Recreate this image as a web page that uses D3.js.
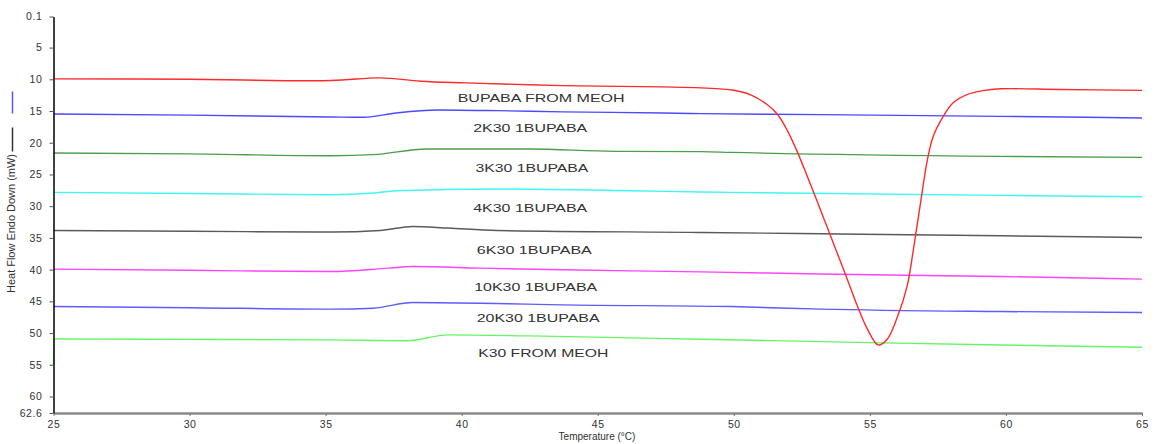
<!DOCTYPE html>
<html>
<head>
<meta charset="utf-8">
<script src="https://cdn.jsdelivr.net/npm/d3@7"></script>
<style>
  html, body { margin: 0; padding: 0; background: #fff; }
  svg { display: block; font-family: "Liberation Sans", Arial, sans-serif; }
</style>
</head>
<body>
<svg id="chart" width="1156" height="444"></svg>
<script>
// ---- data (temperature °C, heat flow mW) ----
const bupabaMeoh = [[25,9.93],[30,10.0],[35.2,10.2],[37.0,9.77],[38.5,10.3],[40.1,10.56],[43.7,10.99],[47.4,11.2],[48.8,11.35],[50.0,11.73],[50.6,12.4],[51.2,13.9],[51.6,15.5],[51.96,18.0],[52.33,21.4],[52.7,25.3],[53.06,29.2],[53.43,33.3],[53.8,37.4],[54.17,41.5],[54.53,45.6],[54.9,49.3],[55.3,51.86],[55.63,51.0],[56.0,47.6],[56.37,42.6],[56.6,36.8],[56.85,29.8],[57.1,23.0],[57.32,19.1],[57.69,15.9],[58.06,13.7],[58.57,12.4],[59.16,11.78],[59.8,11.5],[62,11.6],[65,11.75]];
const k30b2 = [[25,15.46],[30,15.65],[35.2,15.93],[36.4,15.99],[37.6,15.3],[39.1,14.83],[41.3,14.94],[43.7,15.14],[47.4,15.3],[48.8,15.41],[53.2,15.57],[59.8,15.84],[65,16.09]];
const k30b3 = [[25,21.61],[30,21.75],[35.2,22.04],[36.75,21.88],[38.7,20.98],[42.5,20.98],[45.6,21.36],[48.8,21.4],[49.9,21.52],[59.8,22.15],[65,22.31]];
const k30b4 = [[25,27.83],[30,28.0],[35.2,28.19],[36.75,27.93],[37.6,27.56],[41.3,27.29],[46.2,27.56],[48.8,27.77],[49.9,27.83],[59.8,28.3],[65,28.51]];
const k30b6 = [[25,33.83],[30,33.95],[35.2,34.08],[37.0,33.83],[38.2,33.2],[39.5,33.45],[41.3,33.83],[48.8,34.14],[53.2,34.35],[59.8,34.66],[65,34.93]];
const k30b10 = [[25,39.92],[30,40.1],[35.2,40.3],[37.3,39.76],[38.2,39.51],[40.7,39.76],[43.7,40.03],[48.8,40.35],[53.2,40.7],[59.8,41.09],[65,41.5]];
const k30b20 = [[25,45.82],[30,46.0],[35.2,46.23],[36.75,46.08],[38.2,45.19],[40.7,45.29],[43.7,45.55],[49.9,45.82],[53.2,46.23],[59.8,46.61],[65,46.77]];
const k30Meoh = [[25,55],[25.02,50.92],[30,51.0],[35.2,51.08],[38.0,51.2],[39.5,50.29],[42.5,50.45],[48.8,50.97],[55,51.5],[59.8,51.87],[65,52.23]];

const seriesData = [k30b2, k30b3, k30b4, k30b6, k30b10, k30b20, k30Meoh, bupabaMeoh];
const seriesColors = ["#4a4aff", "#4c9e4c", "#3ff5f5", "#5a5a5a", "#ff44ff", "#5c5cff", "#66f566", "#ff2a2a"];

const labelTexts = ["BUPABA FROM MEOH", "2K30 1BUPABA", "3K30 1BUPABA", "4K30 1BUPABA", "6K30 1BUPABA", "10K30 1BUPABA", "20K30 1BUPABA", "K30 FROM MEOH"];
const labelTemps = [42.92, 42.52, 42.58, 42.52, 42.67, 42.72, 42.81, 43.0];
const labelValues = [12.93, 17.67, 23.98, 30.29, 36.87, 42.67, 47.56, 53.18];
const labelWidths = [167, 114, 113, 114, 115, 123, 123, 130];

const xTickValues = [25, 30, 35, 40, 45, 50, 55, 60, 65];
const yTickValues = [0.1, 5, 10, 15, 20, 25, 30, 35, 40, 45, 50, 55, 60, 62.6];

// ---- drawing ----
const svg = d3.select("#chart");
const x = d3.scaleLinear().domain([25, 65]).range([53.5, 1142]);
const y = d3.scaleLinear().domain([0.1, 62.6]).range([16.5, 413]);

const lineFlat = d3.line().x(d => x(d[0])).y(d => y(d[1])).curve(d3.curveMonotoneX);
const lineSmooth = d3.line().x(d => x(d[0])).y(d => y(d[1])).curve(d3.curveCatmullRom.alpha(0.5));

const lines = svg.append("g");
seriesData.forEach((s, i) => {
  lines.append("path")
    .attr("d", (s === bupabaMeoh ? lineSmooth : lineFlat)(s))
    .attr("fill", "none")
    .attr("stroke", seriesColors[i])
    .attr("stroke-width", 1.4);
});

// labels
const lab = svg.append("g");
labelTexts.forEach((t, i) => {
  lab.append("text")
    .attr("x", x(labelTemps[i]) - labelWidths[i] / 2)
    .attr("y", y(labelValues[i]))
    .attr("dy", "0.36em")
    .attr("font-size", 11.5)
    .attr("fill", "#333")
    .attr("textLength", labelWidths[i])
    .attr("lengthAdjust", "spacingAndGlyphs")
    .text(t);
});

// x axis
const xAxis = svg.append("g").attr("transform", `translate(0,${y(62.6)})`)
  .call(d3.axisBottom(x).tickValues(xTickValues).tickSize(3).tickSizeOuter(0).tickFormat(d3.format("d")));
xAxis.select(".domain").attr("stroke", "#8a8a8a").attr("stroke-width", 2.5);
xAxis.selectAll(".tick line").attr("stroke", "#777").attr("stroke-width", 1);
xAxis.selectAll(".tick text").attr("font-size", 10.5).attr("fill", "#333").attr("dy", "0.9em")
  .attr("font-family", "'Liberation Sans', Arial, sans-serif").style("letter-spacing", "0.6px");

// y axis
const yAxis = svg.append("g").attr("transform", `translate(${x(25)},0)`)
  .call(d3.axisLeft(y).tickValues(yTickValues).tickSize(4).tickSizeOuter(0).tickPadding(7).tickFormat(d => d));
yAxis.select(".domain").attr("stroke", "#111").attr("stroke-width", 1.6);
yAxis.selectAll(".tick line").attr("stroke", "#555").attr("stroke-width", 1);
yAxis.selectAll(".tick text").attr("font-size", 10.5).attr("fill", "#333")
  .attr("font-family", "'Liberation Sans', Arial, sans-serif").style("letter-spacing", "0.6px");

// axis titles
svg.append("text")
  .attr("x", 597).attr("y", 440)
  .attr("text-anchor", "middle")
  .attr("font-size", 10)
  .attr("fill", "#333")
  .text("Temperature (°C)");

svg.append("text")
  .attr("transform", "translate(15,293) rotate(-90)")
  .attr("font-size", 10)
  .attr("fill", "#333")
  .attr("textLength", 139)
  .attr("lengthAdjust", "spacingAndGlyphs")
  .text("Heat Flow Endo Down (mW)");

// legend marks beside the y title
svg.append("line").attr("x1", 12.5).attr("x2", 12.5).attr("y1", 91.5).attr("y2", 113.5)
  .attr("stroke", "#5555ff").attr("stroke-width", 1.5);
svg.append("line").attr("x1", 12.5).attr("x2", 12.5).attr("y1", 127.5).attr("y2", 151.5)
  .attr("stroke", "#333").attr("stroke-width", 1.5);
</script>
</body>
</html>
